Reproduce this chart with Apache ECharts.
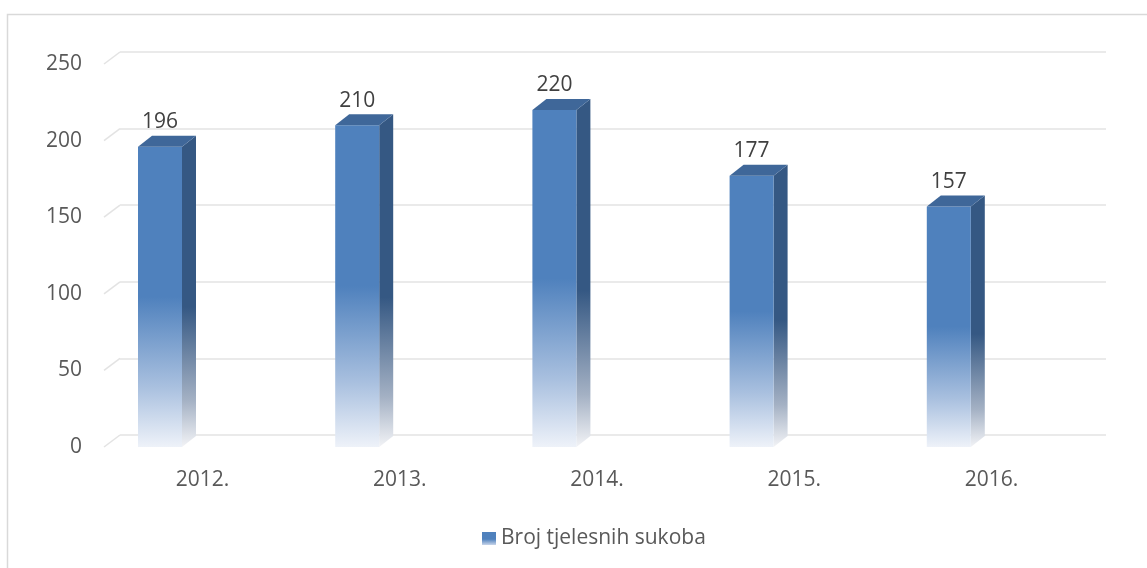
<!DOCTYPE html>
<html>
<head>
<meta charset="utf-8">
<script src="https://cdn.jsdelivr.net/npm/echarts@6/dist/echarts.min.js"></script>
<style>
  html, body { margin: 0; padding: 0; background: #fff; }
  #chart { width: 1147px; height: 568px; }
</style>
</head>
<body>
<div id="chart"></div>
<script>
const years = ['2012.', '2013.', '2014.', '2015.', '2016.'];
const conflicts = [196, 210, 220, 177, 157];
const yTicks = [0, 50, 100, 150, 200, 250];
const seriesName = 'Broj tjelesnih sukoba';

// 3D look: depth offset of the bars and of the back wall
const depthX = 14, depthY = 11;
const wallX = 16, wallY = 12;
const font = '"Open Sans", "Noto Sans", sans-serif';

const chart = echarts.init(document.getElementById('chart'));

function frontGradient() {
  return new echarts.graphic.LinearGradient(0, 0, 0, 1, [
    {offset: 0, color: '#4f81bd'},
    {offset: 0.5, color: '#4f81bd'},
    {offset: 0.8, color: '#a9c0df'},
    {offset: 1, color: '#eef2f9'}
  ]);
}

function sideGradient() {
  return new echarts.graphic.LinearGradient(0, 0, 0, 1, [
    {offset: 0, color: '#355883'},
    {offset: 0.55, color: '#355883'},
    {offset: 0.85, color: '#a4b1c4'},
    {offset: 1, color: '#f2f3f6'}
  ]);
}

function renderBar(params, api) {
  const i = api.value(0);
  const v = api.value(1);
  const top = api.coord([i, v]);
  const base = api.coord([i, 0]);
  const w = 44;
  const x = top[0] - 64.6;
  const y = top[1];
  const h = base[1] - top[1];
  return {
    type: 'group',
    children: [
      {
        type: 'polygon',
        shape: {points: [[x + w, y], [x + w + depthX, y - depthY], [x + w + depthX, base[1] - depthY], [x + w, base[1]]]},
        style: {fill: sideGradient()}
      },
      {
        type: 'rect',
        shape: {x: x, y: y, width: w, height: h},
        style: {fill: frontGradient()}
      },
      {
        type: 'polygon',
        shape: {points: [[x, y], [x + depthX, y - depthY], [x + w + depthX, y - depthY], [x + w, y]]},
        style: {fill: '#3f6799'}
      },
      {
        type: 'text',
        style: {
          text: String(v), x: x + w / 2, y: y - depthY - 3,
          align: 'center', verticalAlign: 'bottom',
          fill: '#404040', font: '21px ' + font
        }
      }
    ]
  };
}

// short slanted lines joining the front value axis to the back wall grid
function renderSlant(params, api) {
  const v = api.value(0);
  const p = api.coord([0, v]);
  const x0 = params.coordSys.x;
  return {
    type: 'line',
    shape: {x1: x0, y1: p[1], x2: x0 + wallX, y2: p[1] - wallY},
    style: {stroke: '#e3e3e3', lineWidth: 1.5}
  };
}

chart.setOption({
  animation: false,
  graphic: [{
    type: 'rect',
    shape: {x: 7.5, y: 14.5, width: 1300, height: 700},
    style: {fill: 'none', stroke: '#d9d9d9', lineWidth: 1.5},
    z: -10
  }],
  legend: {
    left: 477,
    top: 523,
    icon: 'rect',
    itemWidth: 14,
    itemHeight: 13,
    itemGap: 6,
    textStyle: {color: '#595959', fontSize: 21, fontFamily: font},
    data: [{
      name: seriesName,
      itemStyle: {
        color: new echarts.graphic.LinearGradient(0, 0, 0, 1, [
          {offset: 0, color: '#4f81bd'},
          {offset: 0.55, color: '#4f81bd'},
          {offset: 1, color: '#c8d5ea'}
        ])
      }
    }]
  },
  grid: [
    {left: 104, right: 57, top: 64, bottom: 121},
    {left: 104 + wallX, right: 57 - wallX, top: 64 - wallY, bottom: 121 + wallY}
  ],
  xAxis: [
    {
      type: 'category',
      gridIndex: 0,
      data: years,
      axisLine: {show: false},
      axisTick: {show: false},
      axisLabel: {color: '#595959', fontSize: 21, fontFamily: font, margin: 23}
    },
    {
      type: 'category',
      gridIndex: 1,
      data: years,
      show: false
    }
  ],
  yAxis: [
    {
      type: 'value',
      gridIndex: 0,
      min: 0,
      max: 250,
      interval: 50,
      axisLine: {show: false},
      axisTick: {show: false},
      splitLine: {show: false},
      axisLabel: {color: '#595959', fontSize: 21, fontFamily: font, margin: 22}
    },
    {
      type: 'value',
      gridIndex: 1,
      min: 0,
      max: 250,
      interval: 50,
      axisLine: {show: false},
      axisTick: {show: false},
      axisLabel: {show: false},
      splitLine: {lineStyle: {color: '#e3e3e3', width: 1.5}}
    }
  ],
  series: [
    {
      type: 'custom',
      name: 'slants',
      xAxisIndex: 0,
      yAxisIndex: 0,
      silent: true,
      renderItem: renderSlant,
      data: yTicks.map(t => [t]),
      encode: {x: -1, y: 0},
      z: 1
    },
    {
      type: 'custom',
      name: seriesName,
      xAxisIndex: 0,
      yAxisIndex: 0,
      renderItem: renderBar,
      itemStyle: {color: '#4f81bd'},
      data: conflicts.map((v, i) => [i, v]),
      encode: {x: 0, y: 1},
      z: 5
    }
  ]
});
</script>
</body>
</html>
